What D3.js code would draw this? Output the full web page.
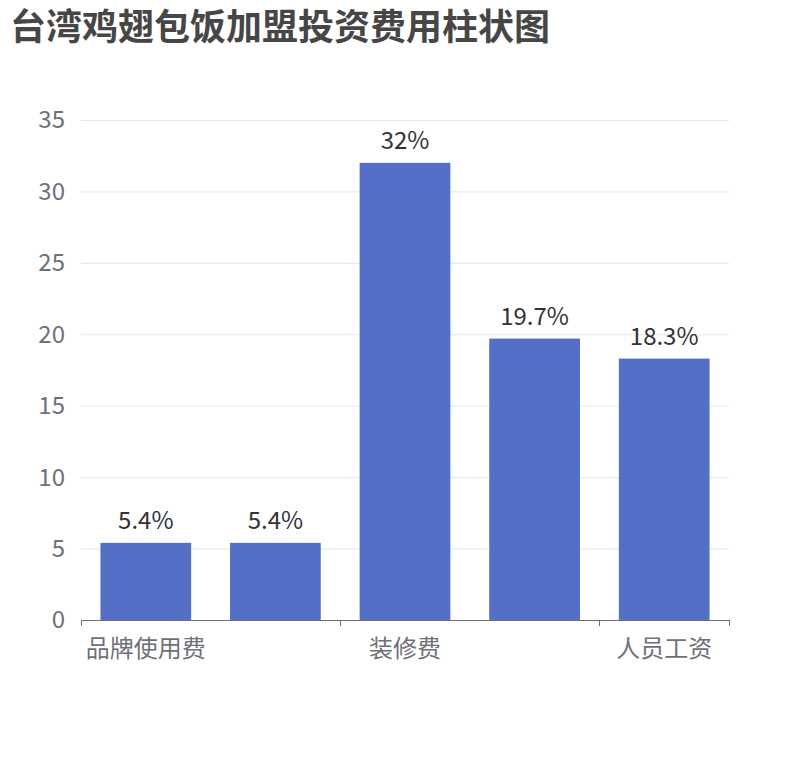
<!DOCTYPE html>
<html>
<head>
<meta charset="utf-8">
<script src="https://cdn.jsdelivr.net/npm/d3@7"></script>
<style>
  body { margin: 0; background: #fff; }
  svg { display: block; font-family: "Noto Sans CJK SC", "Microsoft YaHei", sans-serif; }
</style>
</head>
<body>
<svg width="810" height="760"></svg>
<script>
var title = "台湾鸡翅包饭加盟投资费用柱状图";
// 2nd and 4th labels are hidden in the original (label interval)
var categories = ["品牌使用费", "设备费", "装修费", "房租", "人员工资"];
var values = [5.4, 5.4, 32, 19.7, 18.3];
var yTicks = [0, 5, 10, 15, 20, 25, 30, 35];

var svg = d3.select("svg");

var gLeft = 81, gRight = 729, gTop = 120, gBottom = 620;

var x = d3.scaleBand()
    .domain(categories)
    .range([gLeft, gRight])
    .paddingInner(0.3)
    .paddingOuter(0.15);

var band = (gRight - gLeft) / categories.length;

var y = d3.scaleLinear().domain([0, 35]).range([gBottom, gTop]);

svg.append("text")
    .attr("x", 10)
    .attr("y", 40)
    .attr("font-size", 36)
    .attr("font-weight", "bold")
    .attr("fill", "#464646")
    .text(title);

// grid lines
svg.append("g").selectAll("line")
    .data(yTicks.filter(function (d) { return d > 0; }))
    .join("line")
    .attr("x1", gLeft).attr("x2", gRight)
    .attr("y1", function (d) { return y(d) + 0.5; })
    .attr("y2", function (d) { return y(d) + 0.5; })
    .attr("stroke", "#e0e6f1")
    .attr("stroke-width", 1);

// y labels
svg.append("g").selectAll("text")
    .data(yTicks)
    .join("text")
    .attr("x", gLeft - 16)
    .attr("y", function (d) { return y(d); })
    .attr("dy", "0.35em")
    .attr("text-anchor", "end")
    .attr("font-size", 24)
    .attr("fill", "#6e7079")
    .text(function (d) { return d; });

// bars
svg.append("g").selectAll("rect")
    .data(values)
    .join("rect")
    .attr("x", function (d, i) { return x(categories[i]); })
    .attr("width", x.bandwidth())
    .attr("y", function (d) { return y(d); })
    .attr("height", function (d) { return y(0) - y(d); })
    .attr("fill", "#5470c6");

// bar labels
svg.append("g").selectAll("text")
    .data(values)
    .join("text")
    .attr("x", function (d, i) { return x(categories[i]) + x.bandwidth() / 2; })
    .attr("y", function (d) { return y(d) - 14; })
    .attr("text-anchor", "middle")
    .attr("font-size", 24)
    .attr("fill", "#333")
    .text(function (d) { return d + "%"; });

// x axis
svg.append("line")
    .attr("x1", gLeft).attr("x2", gRight)
    .attr("y1", gBottom + 0.5).attr("y2", gBottom + 0.5)
    .attr("stroke", "#6e7079");

var tickIdx = [0, 2, 4, 5];
svg.append("g").selectAll("line")
    .data(tickIdx)
    .join("line")
    .attr("x1", function (d) { return Math.round(gLeft + d * band) + 0.5; })
    .attr("x2", function (d) { return Math.round(gLeft + d * band) + 0.5; })
    .attr("y1", gBottom).attr("y2", gBottom + 6)
    .attr("stroke", "#6e7079");

svg.append("g").selectAll("text")
    .data(categories.filter(function (d, i) { return i % 2 === 0; }))
    .join("text")
    .attr("x", function (d) { return x(d) + x.bandwidth() / 2; })
    .attr("y", gBottom + 37)
    .attr("text-anchor", "middle")
    .attr("font-size", 24)
    .attr("fill", "#6e7079")
    .text(function (d) { return d; });
</script>
</body>
</html>
